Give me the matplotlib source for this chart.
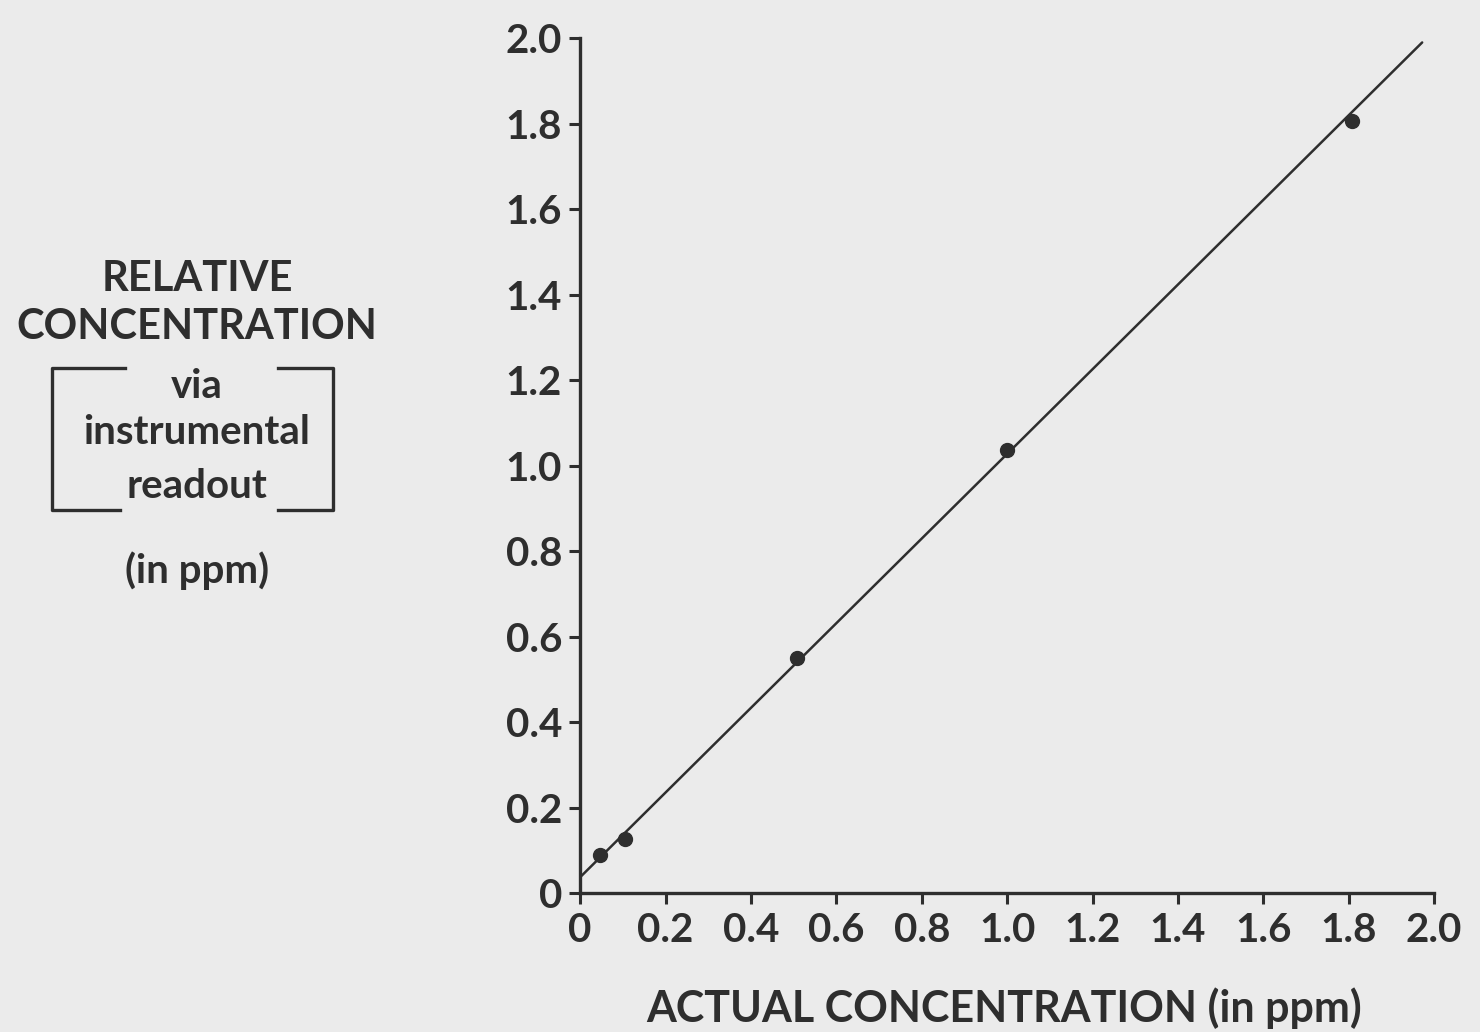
"""Calibration plot: instrument readout against actual concentration."""

import matplotlib

matplotlib.use("Agg")
import matplotlib.pyplot as plt
from matplotlib.lines import Line2D

INK = "#2e2e2e"
PAPER = "#ebebeb"

# measured calibration points (ppm)
actual_ppm = [0.047, 0.105, 0.508, 1.0, 1.808]
readout_ppm = [0.089, 0.126, 0.55, 1.036, 1.806]

# hand-drawn fit line endpoints
fit_x = [0.0, 1.972]
fit_y = [0.037, 1.99]

tick_values = [0, 0.2, 0.4, 0.6, 0.8, 1.0, 1.2, 1.4, 1.6, 1.8, 2.0]
tick_labels = ["0", "0.2", "0.4", "0.6", "0.8", "1.0", "1.2", "1.4", "1.6", "1.8", "2.0"]

plt.rcParams["font.family"] = ["Lato", "DejaVu Sans"]
plt.rcParams["font.weight"] = "bold"

W, H = 1480, 1032
fig = plt.figure(figsize=(W / 100, H / 100), dpi=100, facecolor=PAPER)
ax = fig.add_axes([0.392, 0.1347, 0.577, 0.8283], facecolor=PAPER)

ax.plot(fit_x, fit_y, color=INK, linewidth=1.8, solid_capstyle="round", zorder=2)
ax.plot(actual_ppm, readout_ppm, "o", color=INK, markersize=10, zorder=3)

ax.set_xlim(0, 2.0)
ax.set_ylim(0, 2.0)
ax.set_xticks(tick_values, tick_labels)
ax.set_yticks(tick_values, tick_labels)
for side in ("top", "right"):
    ax.spines[side].set_visible(False)
for side in ("left", "bottom"):
    ax.spines[side].set_linewidth(2.4)
    ax.spines[side].set_color(INK)
ax.tick_params(direction="out", length=8, width=2.2, color=INK,
               labelcolor=INK, labelsize=29, pad=5)
ax.tick_params(axis="x", pad=6)


def fx(px):
    return px / W


def fy(py):
    return 1 - py / H


fig.text(fx(1004), fy(1008), "ACTUAL CONCENTRATION (in ppm)", ha="center",
         va="center", fontsize=31, color=INK)

# stacked y-axis caption with a bracket around the readout note
cx = fx(197)
fig.text(cx, fy(279), "RELATIVE", ha="center", va="center", fontsize=30, color=INK)
fig.text(cx, fy(327), "CONCENTRATION", ha="center", va="center", fontsize=30, color=INK)
fig.text(cx, fy(386), "via", ha="center", va="center", fontsize=29, color=INK)
fig.text(cx, fy(432), "instrumental", ha="center", va="center", fontsize=29, color=INK)
fig.text(cx, fy(486), "readout", ha="center", va="center", fontsize=29, color=INK)
fig.text(cx, fy(571), "(in ppm)", ha="center", va="center", fontsize=29, color=INK)

bracket = dict(color=INK, linewidth=2.4, transform=fig.transFigure)
fig.add_artist(Line2D([fx(125), fx(52), fx(52), fx(120)],
                      [fy(368), fy(368), fy(510), fy(510)], **bracket))
fig.add_artist(Line2D([fx(278), fx(333), fx(333), fx(278)],
                      [fy(368), fy(368), fy(510), fy(510)], **bracket))

fig.savefig("out.png", dpi=100, facecolor=PAPER)
